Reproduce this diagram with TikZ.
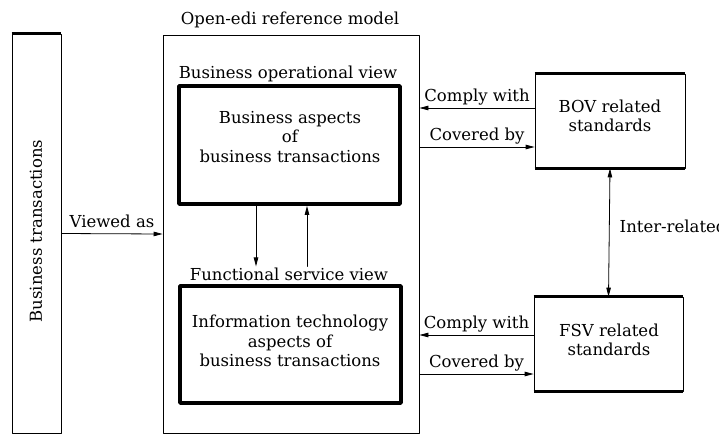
\documentclass[tikz,border=0pt]{standalone}
\usepackage{fontspec}
\setmainfont{DejaVu Serif}
\usetikzlibrary{arrows.meta,positioning}
\begin{document}
\begin{tikzpicture}[x=1pt, y=-1pt, line join=round, line cap=round,
    >={Triangle[length=9pt,width=4.5pt]},
    font=\fontsize{16.5}{19.5}\selectfont,
    frame/.style={draw, line width=0.8pt, inner sep=0pt},
    heavybox/.style={draw, line width=3.8pt, inner sep=0pt},
    heavy/.style={line width=3.5pt, line cap=butt},
    arr/.style={->, line width=0.8pt},
    lbl/.style={inner sep=1pt, align=center}]
	\useasboundingbox (0,0) rectangle (719,434);
	% outer frames
	\node[frame, minimum width=49pt, minimum height=399pt] (bt) at (36.5,233.5) {};
	\node[rotate=90] (btlbl) at (36,231) {Business transactions};
	\node[frame, minimum width=256pt, minimum height=398pt] (oedi) at (291,234) {};
	\node[lbl] (oedilbl) at (290,20) {Open-edi reference model};
	% views
	\node[lbl] (bovlbl) at (288,74) {Business operational view};
	\node[heavybox, minimum width=221pt, minimum height=118pt] (bov) at (289.5,145) {};
	\node[lbl] (bovtxt) at (290,137) {Business aspects\\of\\business transactions};
	\node[lbl] (fsvlbl) at (289,274) {Functional service view};
	\node[heavybox, minimum width=221pt, minimum height=117pt] (fsv) at (290.5,344.5) {};
	\node[lbl] (fsvtxt) at (290,341) {Information technology\\aspects of\\business transactions};
	% standards
	\node[frame, minimum width=150pt, minimum height=94pt] (bovstd) at (610,121) {};
	\node[lbl] (bovstdtxt) at (610,116) {BOV related\\standards};
	\node[frame, minimum width=149pt, minimum height=94pt] (fsvstd) at (608.5,344) {};
	\node[lbl] (fsvstdtxt) at (609,340) {FSV related\\standards};
	\foreach \n in {bovstd, fsvstd}
	\draw[heavy] (\n.north west) -- (\n.north east) (\n.south west) -- (\n.south east);
	\draw[heavy] (bt.north west) -- (bt.north east);
	% connectors
	\draw[arr] (bt.east) -- (oedi.west) node[midway, above=2pt] (viewed) {Viewed as};
	\coordinate (d1) at ([xshift=-33.5pt]bov.south);
	\coordinate (d2) at ([xshift=17.5pt]bov.south);
	\draw[arr] (d1) -- (d1 |- fsvlbl.north);
	\draw[arr] (d2 |- fsvlbl.north) -- (d2);
	\coordinate (b1) at ([yshift=13pt]bovstd.west);
	\coordinate (b2) at ([yshift=-26pt]bovstd.west);
	\coordinate (f1) at ([yshift=9pt]fsvstd.west);
	\coordinate (f2) at ([yshift=-30pt]fsvstd.west);
	\foreach \c/\t in {b1/bovcw, f1/fsvcw}
	\draw[arr] (\c) -- (\c -| oedi.east) node[midway, above=1pt, lbl] (\t) {Comply with};
	\foreach \c/\t in {b2/bovcb, f2/fsvcb}
	\draw[arr] (\c -| oedi.east) -- (\c) node[midway, above=1pt, lbl] (\t) {Covered by};
	\draw[arr, <->] (bovstd.south) -- (fsvstd.north) node[pos=0.45, right=9pt, lbl] (inter) {Inter-related};
\end{tikzpicture}
\end{document}
